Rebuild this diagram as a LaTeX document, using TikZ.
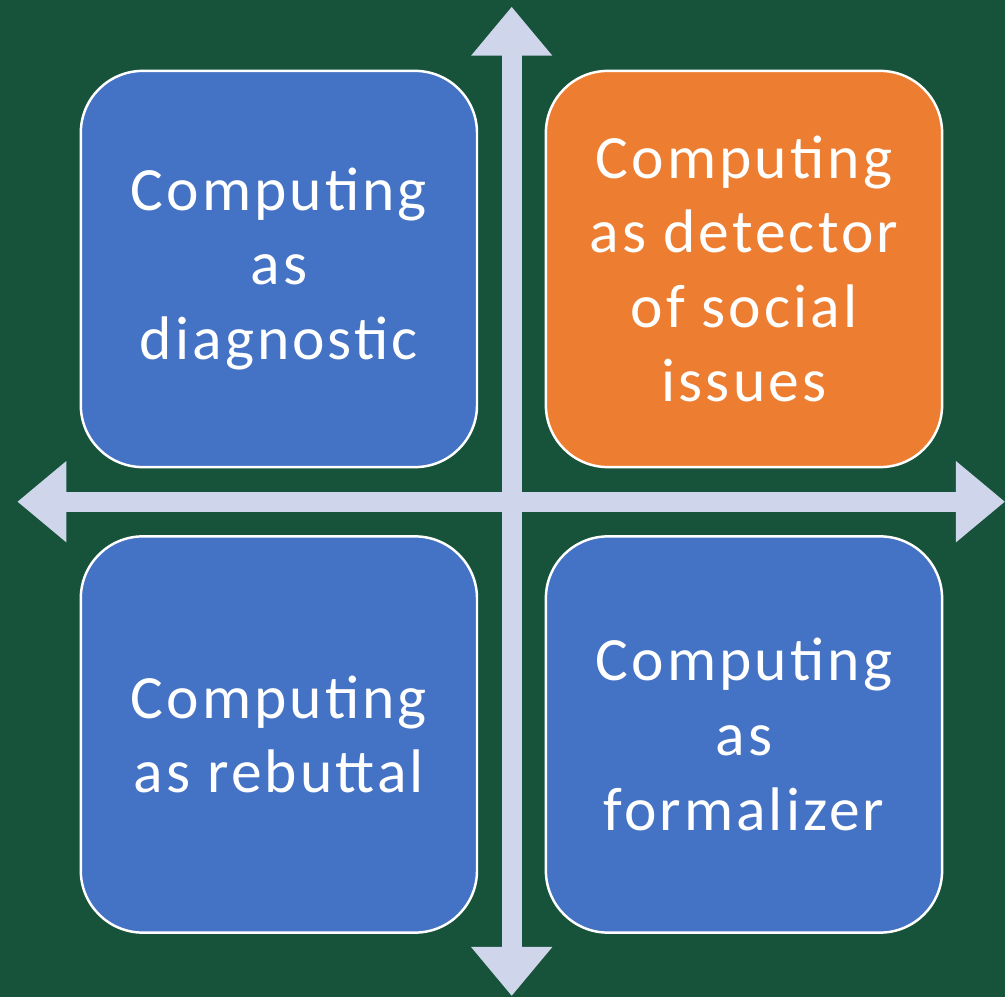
\documentclass[tikz,border=0pt]{standalone}
\usepackage{fontspec}
\setmainfont{Carlito}[LetterSpace=5]
\usetikzlibrary{arrows.meta}
\definecolor{bggreen}{RGB}{23,83,58}
\definecolor{quadblue}{RGB}{68,114,196}
\definecolor{quadorange}{RGB}{237,125,49}
\definecolor{axisgray}{RGB}{207,213,234}
\begin{document}
\begin{tikzpicture}[x=0.01cm,y=-0.01cm,
		quad/.style={draw=white,line width=0.7pt,rounded corners=0.62cm,minimum width=3.96cm,minimum height=3.96cm,inner sep=0pt,text=white,align=center,font=\fontsize{17.5}{21.2}\selectfont},
		axis/.style={axisgray,line width=0.2cm,{Triangle[length=0.49cm,width=0.78cm]}-{Triangle[length=0.49cm,width=0.78cm]}}]
			\fill[bggreen] (0,0) rectangle (1005,997);
			\useasboundingbox (0,0) rectangle (1005,997);
			\node[quad,fill=quadblue] (diag) at (278.9,269){Computing\\as\\diagnostic};
			\node[quad,fill=quadorange] (detect) at (744,269){Computing\\as detector\\of social\\issues};
			\node[quad,fill=quadblue] (rebut) at (278.9,734.5){Computing\\as rebuttal};
			\node[quad,fill=quadblue] (formal) at (744,734.5){Computing\\as\\formalizer};
			\coordinate (top) at (511.7,6.7);
			\coordinate (bottom) at (511.7,996);
			\coordinate (left) at (17.3,501.7);
			\coordinate (right) at (1005,501.7);
			\draw[axis] (bottom)--(top);
			\draw[axis] (left)--(right);
		\end{tikzpicture}
\end{document}
